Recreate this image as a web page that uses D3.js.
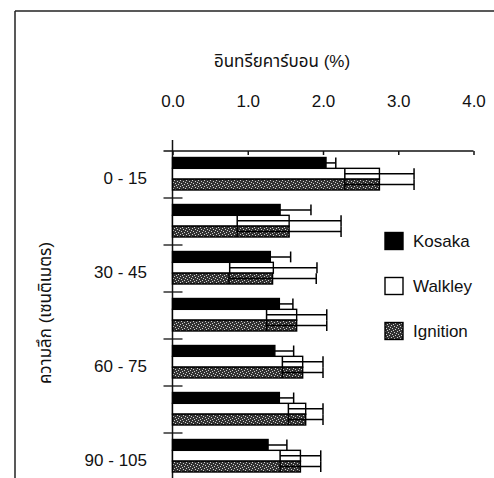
<!DOCTYPE html>
<html>
<head>
<meta charset="utf-8">
<script src="https://cdn.jsdelivr.net/npm/d3@7"></script>
<style>
  html, body { margin: 0; padding: 0; background: #fff; }
  svg { display: block; }
  text { font-family: "Liberation Sans", Arial, "Noto Sans Thai", sans-serif; fill: #111; }
</style>
</head>
<body>
<svg id="chart" width="494" height="478"></svg>
<script>
// Soil depth classes (cm)
const categories = ["0 - 15", "15 - 30", "30 - 45", "45 - 60", "60 - 75", "75 - 90", "90 - 105"];
// Organic carbon (%) by method, with error (±)
const kosaka      = [2.04, 1.43, 1.30, 1.42, 1.36, 1.42, 1.27];
const kosakaErr   = [0.13, 0.41, 0.27, 0.18, 0.25, 0.19, 0.25];
const walkley     = [2.75, 1.55, 1.34, 1.65, 1.73, 1.77, 1.70];
const walkleyErr  = [0.46, 0.69, 0.58, 0.40, 0.27, 0.23, 0.27];
const ignition    = [2.75, 1.55, 1.33, 1.65, 1.73, 1.77, 1.70];
const ignitionErr = [0.46, 0.69, 0.58, 0.40, 0.27, 0.23, 0.27];
const seriesNames = ["Kosaka", "Walkley", "Ignition"];
const xTicks = [0, 1, 2, 3, 4];
const xTitle = "อินทรียคาร์บอน (%)";
const yTitle = "ความลึก (เซนติเมตร)";

const svg = d3.select("#chart");

// speckled fill for the ignition bars
const defs = svg.append("defs");
const pat = defs.append("pattern")
  .attr("id", "speckle").attr("patternUnits", "userSpaceOnUse")
  .attr("width", 6).attr("height", 6);
pat.append("rect").attr("width", 6).attr("height", 6).attr("fill", "#333");
[[0,0],[3,1],[1,3],[4,4],[2,5],[5,2]].forEach(([a,b]) =>
  pat.append("rect").attr("x", a).attr("y", b).attr("width", 1).attr("height", 1).attr("fill", "#cfcfcf"));

const x = d3.scaleLinear().domain([0, 4]).range([172.5, 473.5]);
const y = d3.scaleBand().domain(categories).range([151, 151 + 47 * categories.length]);
const yInner = d3.scaleBand().domain(seriesNames).range([6.5, 39]);

// outer frame
svg.append("line").attr("x1", 15).attr("x2", 494).attr("y1", 11).attr("y2", 11)
  .attr("stroke", "#222").attr("stroke-width", 1.3);
svg.append("line").attr("x1", 15).attr("x2", 15).attr("y1", 11).attr("y2", 478)
  .attr("stroke", "#222").attr("stroke-width", 1.5);

// top value axis
const xAxis = svg.append("g").attr("transform", `translate(0,${y.range()[0]})`)
  .call(d3.axisTop(x).tickValues(xTicks).tickFormat(d3.format(".1f")).tickSizeInner(11).tickSizeOuter(0));
xAxis.select(".domain").remove();
xAxis.append("line").attr("x1", x(0) - 9).attr("x2", x(4)).attr("stroke", "#111").attr("stroke-width", 1.3);
xAxis.selectAll(".tick line").attr("y2", 4).attr("stroke", "#111").attr("stroke-width", 1.5);
xAxis.selectAll(".tick text").attr("y", -44).attr("dy", 0)
  .style("font-size", "17px").style("font-family", "'Liberation Sans', Arial, sans-serif").attr("fill", "#111");

// left category axis
const yAxis = svg.append("g").attr("transform", `translate(${x(0)},0)`);
yAxis.append("line").attr("y1", y.range()[0] - 11).attr("y2", 478).attr("stroke", "#111").attr("stroke-width", 1.5);
yAxis.selectAll(".yt").data(categories.slice(1)).join("line").attr("class", "yt")
  .attr("x1", -9).attr("x2", 10).attr("y1", d => y(d)).attr("y2", d => y(d))
  .attr("stroke", "#111").attr("stroke-width", 1.3);
svg.selectAll(".ylab").data(categories.filter((d, i) => i % 2 === 0)).join("text").attr("class", "ylab")
  .attr("x", 147).attr("y", d => y(d) + y.bandwidth() / 2 + 9)
  .attr("text-anchor", "end").style("font-size", "17px").text(d => d);

// titles
svg.append("text").attr("x", 282).attr("y", 67).attr("text-anchor", "middle")
  .style("font-size", "17px").text(xTitle);
svg.append("text").attr("transform", "translate(51,313) rotate(-90)").attr("text-anchor", "middle")
  .style("font-size", "17px").text(yTitle);

// bars
const fills = { Kosaka: "#000", Walkley: "#fff", Ignition: "url(#speckle)" };
const rows = [];
categories.forEach((c, i) => {
  rows.push({ cat: c, s: "Kosaka", v: kosaka[i], e: kosakaErr[i] });
  rows.push({ cat: c, s: "Walkley", v: walkley[i], e: walkleyErr[i] });
  rows.push({ cat: c, s: "Ignition", v: ignition[i], e: ignitionErr[i] });
});
const h = yInner.bandwidth();
svg.append("g").selectAll("rect").data(rows).join("rect")
  .attr("x", x(0)).attr("y", d => y(d.cat) + yInner(d.s))
  .attr("width", d => x(d.v) - x(0)).attr("height", h)
  .attr("fill", d => fills[d.s]).attr("stroke", "#000").attr("stroke-width", 1.4);

// error bars (±)
const eb = svg.append("g").attr("stroke", "#000").attr("stroke-width", 1.5);
rows.forEach(d => {
  const cy = y(d.cat) + yInner(d.s) + h / 2;
  eb.append("line").attr("x1", x(d.v - d.e)).attr("x2", x(d.v + d.e)).attr("y1", cy).attr("y2", cy);
  [d.v - d.e, d.v + d.e].forEach(v =>
    eb.append("line").attr("x1", x(v)).attr("x2", x(v)).attr("y1", cy - h / 2).attr("y2", cy + h / 2));
});

// legend
const lg = svg.append("g").attr("transform", "translate(385,241)");
seriesNames.forEach((s, i) => {
  const g = lg.append("g").attr("transform", `translate(0,${i * 45})`);
  g.append("rect").attr("x", 0).attr("y", -8.5).attr("width", 18).attr("height", 17)
    .attr("fill", fills[s]).attr("stroke", "#000").attr("stroke-width", 1.4);
  g.append("text").attr("x", 28).attr("y", 6).style("font-size", "17px").text(s);
});
</script>
</body>
</html>
